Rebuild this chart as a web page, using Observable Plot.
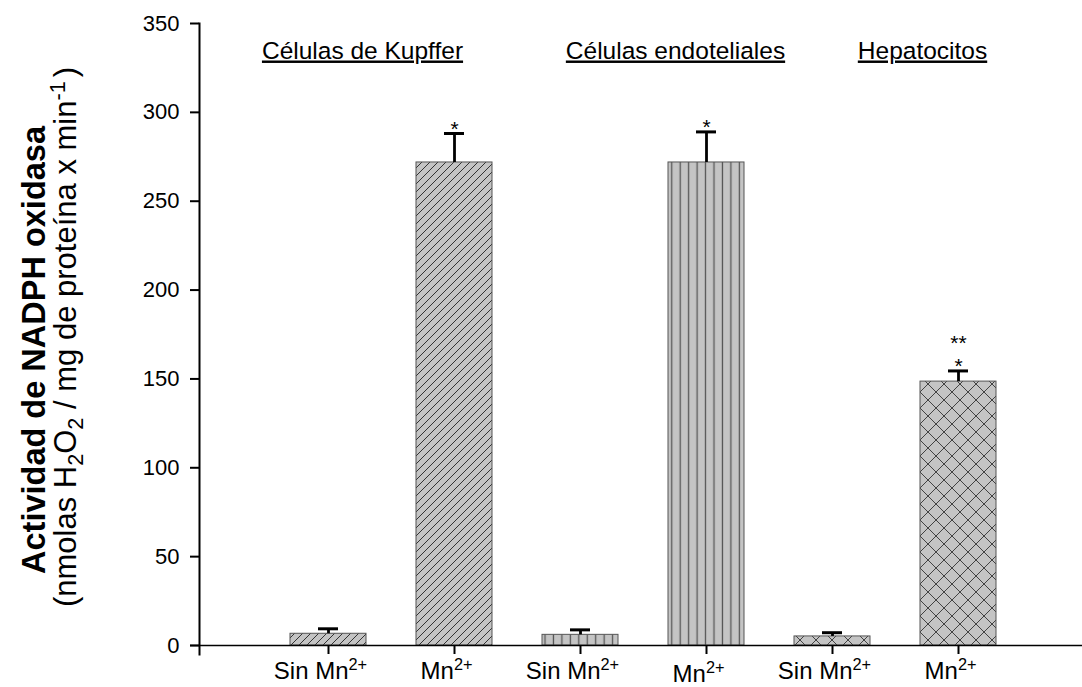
<!DOCTYPE html>
<html><head><meta charset="utf-8">
<script src="https://cdn.jsdelivr.net/npm/d3@7"></script>
<script src="https://cdn.jsdelivr.net/npm/@observablehq/plot@0.6"></script>
<style>
body{margin:0;background:#fff;}
#chart svg{font-family:"Liberation Sans", Arial, sans-serif;background:#fff;}
.grp text{text-decoration:underline;text-decoration-thickness:3px;text-underline-offset:5px;}
</style></head><body><div id="chart"></div>
<script>
const categories = ["K-sin","K-mn","E-sin","E-mn","H-sin","H-mn"];
const groups = ["Kupffer","Kupffer","Endo","Endo","Hep","Hep"];
const means = [6.6, 271.8, 6.0, 271.8, 5.1, 148.5];
const errors = [2.8, 16.3, 2.8, 17.2, 2.1, 6.0];
const tickLabels = ["Sin Mn2+","Mn2+","Sin Mn2+","Mn2+","Sin Mn2+","Mn2+"];
const stars1 = ["","*","","*","","*"];
const stars2 = ["","","","","","**"];
const groupKeys = ["Kupffer","Endo","Hep"];
const groupTitles = ["Células de Kupffer","Células endoteliales","Hepatocitos"];
const yTicks = [0,50,100,150,200,250,300,350];
const yTitle = "Actividad de NADPH oxidasa";
const ySubParts = [["(nmolas H",""],["2","sub"],["O",""],["2","sub"],[" / mg de proteína x min",""],["-1","sup"],[")",""]];

const rows = categories.map((c,i)=>({cat:c, group:groups[i], mean:means[i], err:errors[i], top:means[i]+errors[i], s1:stars1[i], s2:stars2[i]}));
const patternOf = {Kupffer:"url(#pat-k)", Endo:"url(#pat-e)", Hep:"url(#pat-h)"};
const titleDx = [34, 95, 90];

const marks = [];
groupKeys.forEach(g=>{
  marks.push(Plot.barY(rows.filter(r=>r.group===g), {x:"cat", y:"mean", fill:patternOf[g], stroke:"#555", strokeWidth:1}));
});
marks.push(
  Plot.ruleX(rows, {x:"cat", y1:"mean", y2:"top", stroke:"#000", strokeWidth:2.8}),
  Plot.tickY(rows, {x:"cat", y:"top", stroke:"#000", strokeWidth:3, insetLeft:28, insetRight:28}),
  Plot.text(rows, {x:"cat", y:"top", text:"s1", lineAnchor:"bottom", dy:2, fontSize:21, fill:"#000"}),
  Plot.text(rows, {x:"cat", y:"top", text:"s2", lineAnchor:"bottom", dy:-21, fontSize:21, fill:"#000"}),
  Plot.ruleY([0], {insetLeft:-9, stroke:"#000", strokeWidth:1.5}),
  Plot.frame({anchor:"left", insetBottom:-9, stroke:"#000", strokeWidth:2}),
  Plot.axisY({ticks:yTicks, tickSize:9, tickPadding:11, fontSize:22, label:null, tickFormat:d=>String(d), strokeWidth:2, color:"#000"}),
  Plot.axisX({tickSize:9, tickPadding:7, fontSize:24, label:null, tickFormat:d=>tickLabels[categories.indexOf(d)], strokeWidth:2, color:"#000"})
);
groupKeys.forEach((g,i)=>{
  const firstCat = categories[groups.indexOf(g)];
  marks.push(Plot.text([groupTitles[i]], {x:()=>firstCat, text:d=>d, frameAnchor:"top", lineAnchor:"bottom", dy:35, dx:titleDx[i], fontSize:24.5, fill:"#000", className:"grp"}));
});

const svg = Plot.plot({
  width:1082, height:687,
  marginLeft:199, marginRight:0, marginTop:23, marginBottom:42,
  x:{domain:categories, range:[199,1087], paddingInner:0.4, paddingOuter:0.7},
  y:{domain:[0,350], range:[645,23]},
  style:{fontFamily:"Liberation Sans, Arial, sans-serif", color:"#000", background:"#fff"},
  marks
});

const sel = d3.select(svg);
const defs = sel.insert("defs", ":first-child");
const pk = defs.append("pattern").attr("id","pat-k").attr("patternUnits","userSpaceOnUse").attr("width",8).attr("height",8);
pk.append("rect").attr("width",8).attr("height",8).attr("fill","#c4c4c4");
pk.append("path").attr("d","M-2,2 L2,-2 M0,8 L8,0 M6,10 L10,6").attr("stroke","#333").attr("stroke-width",1);
const pe = defs.append("pattern").attr("id","pat-e").attr("patternUnits","userSpaceOnUse").attr("width",8.45).attr("height",10);
pe.append("rect").attr("width",8.45).attr("height",10).attr("fill","#c4c4c4");
pe.append("path").attr("d","M4.2,0 L4.2,10").attr("stroke","#555").attr("stroke-width",1.3);
const ph = defs.append("pattern").attr("id","pat-h").attr("patternUnits","userSpaceOnUse").attr("width",16).attr("height",16);
ph.append("rect").attr("width",16).attr("height",16).attr("fill","#c4c4c4");
ph.append("path").attr("d","M0,0 L16,16 M16,0 L0,16").attr("stroke","#333").attr("stroke-width",0.9);

// superscripts on x tick labels
sel.selectAll('g[aria-label="x-axis tick label"] text').each(function(d,i){
  const t = this.textContent;
  const m = t.match(/^(.*?)(2\+)$/);
  if (m) {
    const s = d3.select(this);
    s.text(m[1]);
    s.append("tspan").attr("dy","-0.5em").attr("font-size","0.68em").text(m[2]);
    s.attr("dx", -8);
  }
  if (i === 3) {
    const tr = this.getAttribute("transform") || "";
    this.setAttribute("transform", tr + " translate(0,3)");
  }
});

// y-axis title (two lines, rotated)
const yt1 = sel.append("text").attr("transform","translate(45,350) rotate(-90)").attr("text-anchor","middle")
  .attr("font-weight","bold").attr("font-size",32.5).attr("fill","#000").text(yTitle);
const yt2 = sel.append("text").attr("transform","translate(76,337) rotate(-90)").attr("text-anchor","middle")
  .attr("font-size",31).attr("fill","#000");
ySubParts.forEach(([txt,kind],i)=>{
  const ts = yt2.append("tspan").text(txt);
  const prev = i>0 ? ySubParts[i-1][1] : "";
  if (kind === "sub") ts.attr("font-size","0.7em").attr("dy","0.3em");
  else if (kind === "sup") ts.attr("font-size","0.7em").attr("dy", prev==="sub" ? "-0.8em" : "-0.5em");
  else if (prev === "sub") ts.attr("dy","-0.21em");
  else if (prev === "sup") ts.attr("dy","0.35em").attr("dx",4);
});

document.getElementById("chart").appendChild(svg);
</script></body></html>
